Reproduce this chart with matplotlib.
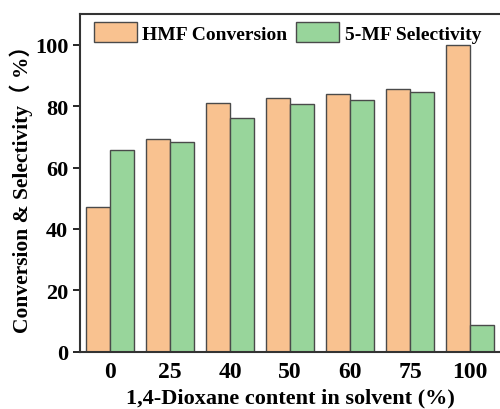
import matplotlib
matplotlib.use("Agg")
import matplotlib.pyplot as plt
import numpy as np

# 데이터
categories = ["0", "25", "40", "50", "60", "75", "100"]
conversion = [47.3, 69.3, 81.2, 82.6, 83.9, 85.6, 100.0]
selectivity = [65.8, 68.4, 76.0, 80.6, 82.1, 84.7, 8.7]

plt.rcParams['font.family'] = ['Liberation Serif', 'Noto Sans CJK SC']
plt.rcParams['font.weight'] = 'bold'

fig = plt.figure(figsize=(5, 4.1), dpi=100)
ax = fig.add_axes([0.16, 0.14, 0.84, 0.823])

x = np.arange(len(categories))
w = 0.4
ax.bar(x - w / 2, conversion, w, color='#F9C290', edgecolor='#4a4a4a',
       linewidth=1.0, label='HMF Conversion')
ax.bar(x + w / 2, selectivity, w, color='#98D59B', edgecolor='#4a4a4a',
       linewidth=1.0, label='5-MF Selectivity')

ax.set_xlim(-0.5, 6.5)
ax.set_ylim(0, 110)
ax.set_xticks(x)
ax.set_xticklabels(categories)
ax.set_yticks([0, 20, 40, 60, 80, 100])
ax.tick_params(axis='x', length=0, labelsize=17, pad=7)
ax.tick_params(axis='y', length=5, width=1.2, labelsize=16, direction='out')
for lab in ax.get_xticklabels() + ax.get_yticklabels():
    lab.set_fontweight('bold')

for s in ['left', 'bottom', 'top']:
    ax.spines[s].set_linewidth(1.5)
    ax.spines[s].set_color('#333333')
ax.spines['right'].set_visible(False)

ax.set_xlabel('1,4-Dioxane content in solvent (%)', fontsize=16,
              fontweight='bold', labelpad=4)
ax.set_ylabel('Conversion & Selectivity（ %）', fontsize=15.5,
              fontweight='bold', labelpad=1)

ax.legend(loc='upper left', ncol=2, frameon=False,
          handlelength=2.2, handleheight=1.15, columnspacing=0.45,
          handletextpad=0.3, borderaxespad=0.2,
          bbox_to_anchor=(0.005, 1.01), prop={'weight': 'bold', 'size': 14})

fig.savefig('out.png', dpi=100)
